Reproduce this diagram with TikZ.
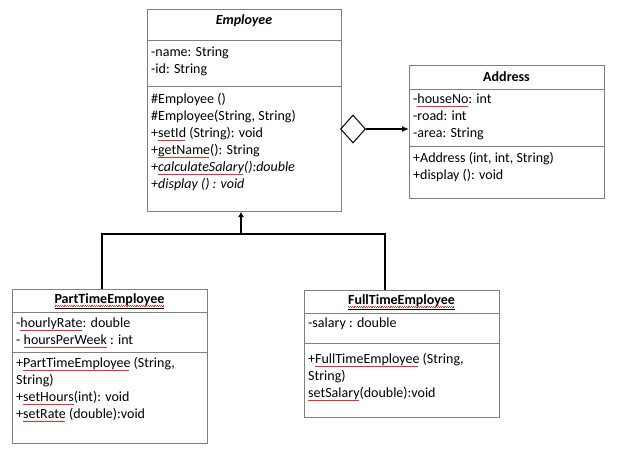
\documentclass[tikz,border=0pt]{standalone}
\usepackage{fontspec}
\setmainfont{Carlito}
\usepackage{xcolor}
\usetikzlibrary{arrows.meta,shapes.geometric}

\definecolor{boxgray}{HTML}{808080}
% red spell-check squiggle under a word
\newcommand\spl[1]{\setbox0\hbox{#1}\rlap{\color{red!85}\hbox to\wd0{\leaders\hbox{%
  \vrule width 0.9pt height -2.4pt depth 3pt\vrule width 0.9pt height -3.2pt depth 3.8pt}\hfill}}\box0\relax}
\newcommand\memfont{\fontsize{14}{17}\selectfont}

\begin{document}
\begin{tikzpicture}[x=1pt, y=-1pt,
  classbox/.style={draw=boxgray, line width=1pt, inner sep=0pt, anchor=north west},
  divider/.style={draw=boxgray, line width=1pt},
  members/.style={anchor=north west, align=left, inner sep=0pt, font=\memfont},
  classname/.style={inner sep=0pt, font=\memfont\bfseries},
  link/.style={line width=2pt}]
  \useasboundingbox (0,0) rectangle (636,466);

  % Employee
  \node[classbox, minimum width=194pt, minimum height=202pt] (emp) at (147,9) {};
  \draw[divider] (emp.west |- 0,40) -- (emp.east |- 0,40);
  \draw[divider] (emp.west |- 0,86) -- (emp.east |- 0,86);
  \node[classname, font=\memfont\bfseries\itshape] (empname) at (244,21) {Employee};
  \node[members] (empattr) at (151,44.1) {\strut-name: String\\-id: String};
  \node[members] (empops) at (151,91.1) {\strut\#Employee ()\\\#Employee(String, String)\\
    +\spl{setId} (String): void\\+\spl{getName}(): String\\
    \itshape +\spl{calculateSalary}():double\\\itshape +display () : void};

  % Address
  \node[classbox, minimum width=195pt, minimum height=133pt] (addr) at (409,65) {};
  \draw[divider] (addr.west |- 0,89) -- (addr.east |- 0,89);
  \draw[divider] (addr.west |- 0,146) -- (addr.east |- 0,146);
  \node[classname] (addrname) at (506.5,77) {Address};
  \node[members] (addrattr) at (413,91.1) {\strut-\spl{houseNo}: int\\-road: int\\-area: String};
  \node[members] (addrops) at (413,150.1) {\strut+Address (int, int, String)\\+display (): void};

  % PartTimeEmployee
  \node[classbox, minimum width=195pt, minimum height=154pt] (part) at (12,289) {};
  \draw[divider] (part.west |- 0,312) -- (part.east |- 0,312);
  \draw[divider] (part.west |- 0,352) -- (part.east |- 0,352);
  \node[classname] (partname) at (109.5,301) {\underline{\spl{PartTimeEmployee}}};
  \node[members] (partattr) at (16,315.1) {\strut-\spl{hourlyRate}: double\\- \spl{hoursPerWeek} : int};
  \node[members] (partops) at (16,355.1) {\strut+\spl{PartTimeEmployee} (String,\\String)\\
    +\spl{setHours}(int): void\\+\spl{setRate} (double):void};

  % FullTimeEmployee
  \node[classbox, minimum width=195pt, minimum height=127pt] (full) at (304,290) {};
  \draw[divider] (full.west |- 0,313) -- (full.east |- 0,313);
  \draw[divider] (full.west |- 0,343) -- (full.east |- 0,343);
  \node[classname] (fullname) at (401.5,302) {\underline{\spl{FullTimeEmployee}}};
  \node[members] (fullattr) at (308,315.1) {\strut-salary : double};
  \node[members] (fullops) at (308,351.1) {\strut+\spl{FullTimeEmployee} (String,\\String)\\
    \spl{setSalary}(double):void};

  % aggregation
  \node[diamond, draw, line width=1pt, inner sep=0pt, minimum width=25pt, minimum height=28pt,
    anchor=west] (agg) at (340,129) {};
  \draw[line width=1.5pt, -{Latex[length=7pt,width=6pt]}] (agg.east) -- (agg.east -| addr.west);

  % inheritance
  \coordinate (join) at (241,234);
  \draw[link, -{Latex[length=5pt,width=6pt]}] (join) -- (join |- emp.south);
  \draw[link] (part.north -| 102,0) |- (join) -| (full.north -| 385,0);
\end{tikzpicture}
\end{document}
